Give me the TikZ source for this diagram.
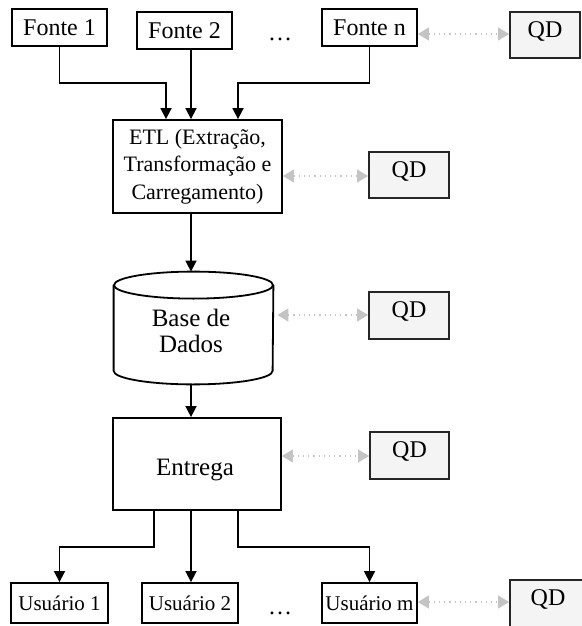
\documentclass[tikz,border=0pt]{standalone}
\usepackage{fontspec}
\setmainfont{Liberation Serif}
\usetikzlibrary{calc,arrows.meta}

\definecolor{qdfill}{HTML}{F4F4F4}
\definecolor{qdline}{HTML}{C4C4C4}

\tikzset{
  box/.style={draw=black, line width=0.9pt, fill=white, inner sep=0pt, align=center},
  qdbox/.style={draw=black!85, line width=0.9pt, fill=qdfill, inner sep=0pt},
  lbl/.style={font=\fontsize{12}{14}\selectfont},
  small/.style={font=\fontsize{10.5}{12}\selectfont},
  flow/.style={line width=0.8pt, -{Triangle[length=5.5pt,width=5.5pt]}},
  qdlink/.style={draw=qdline, line width=0.6pt, dotted,
    {Triangle[length=5.5pt,width=6.5pt]}-{Triangle[length=5.5pt,width=6.5pt]}},
  cyl/.style={draw=black, line width=0.9pt},
}

\begin{document}
\begin{tikzpicture}[x=0.5pt,y=-0.5pt]
\useasboundingbox (0,0) rectangle (582,626);

% routing helpers
\coordinate (spine) at (191,0);
\coordinate (topbus) at (0,83);
\coordinate (botbus) at (0,547);
\coordinate (a1) at (0,34);
\coordinate (a2) at (0,176);
\coordinate (a3) at (0,315);
\coordinate (a4) at (0,456);
\coordinate (a5) at (0,602);

% sources
\node[box,lbl,minimum width=47.5pt,minimum height=18.5pt] (f1) at (59.5,27.5) {Fonte 1};
\node[box,lbl,minimum width=47.5pt,minimum height=18.5pt] (f2) at (184.5,30.5) {Fonte 2};
\node[lbl,anchor=base] (d1) at (280,41) {\ldots};
\node[box,lbl,minimum width=47.5pt,minimum height=18.5pt] (fn) at (369.5,27.5) {Fonte n};

% ETL
\node[box,font=\fontsize{11}{13.75}\selectfont,minimum width=84.5pt,minimum height=46.5pt] (etl) at (197.5,166.5)
  {ETL (Extração,\\Transformação e\\Carregamento)};

% database cylinder
\node[inner sep=0pt,minimum width=79.5pt,minimum height=56pt] (dbshape) at (193.5,328) {};
\path (dbshape.north) ++(0,13.5) coordinate (ctop);
\path (dbshape.south) ++(0,-13.5) coordinate (cbot);
\fill[white] (ctop -| dbshape.west) rectangle (cbot -| dbshape.east);
\draw[cyl,fill=white] (ctop -| dbshape.west) -- (cbot -| dbshape.west)
  arc[start angle=180,end angle=360,x radius=39.75pt,y radius=6.75pt]
  -- (ctop -| dbshape.east);
\draw[cyl,fill=white] (ctop) ellipse[x radius=39.75pt,y radius=6.75pt];
\node[font=\fontsize{12.5}{13}\selectfont,align=center] (db) at (191,331) {Base de\\Dados};

% delivery
\node[box,minimum width=84pt,minimum height=46pt] (ent) at (197,464) {};
\node[font=\fontsize{12.5}{14}\selectfont] (entl) at (195,470) {Entrega};

% users
\node[box,small,minimum width=48.5pt,minimum height=20pt] (u1) at (59.5,603) {Usuário 1};
\node[box,small,minimum width=48pt,minimum height=20pt] (u2) at (190,603) {Usuário 2};
\node[lbl,anchor=base] (d2) at (280,614) {\ldots};
\node[box,small,minimum width=47.5pt,minimum height=20pt] (um) at (369.5,603) {Usuário m};

% data quality boxes
\node[qdbox,minimum width=35pt,minimum height=23pt] (qd1) at (545,35) {};
\node[qdbox,minimum width=40pt,minimum height=23pt] (qd2) at (409,175) {};
\node[qdbox,minimum width=40pt,minimum height=23.5pt] (qd3) at (409,315.5) {};
\node[qdbox,minimum width=39.5pt,minimum height=23.5pt] (qd4) at (409.5,455.5) {};
\node[qdbox,minimum width=38pt,minimum height=25pt] (qd5) at (548,605) {};
\foreach \q in {qd1,qd2,qd3,qd4,qd5}
  \node[lbl,anchor=base] (\q t) at ($(\q.north)+(0,26)$) {QD};

% flow connectors
\draw[flow] (f1.south) -- (f1.south |- topbus) -| ($(etl.north)+(-31.5,0)$);
\draw[flow] (f2.south -| spine) -- (etl.north -| spine);
\draw[flow] (fn.south) -- (fn.south |- topbus) -| ($(etl.north)+(40.5,0)$);
\draw[flow] (etl.south -| spine) -- (dbshape.north -| spine);
\draw[flow] (dbshape.south -| spine) -- (ent.north -| spine);
\coordinate (e1) at ($(ent.south)+(-43,0)$);
\coordinate (e3) at ($(ent.south)+(41,0)$);
\draw[flow] (e1) -- (e1 |- botbus) -| (u1.north);
\draw[flow] (ent.south -| spine) -- (u2.north -| spine);
\draw[flow] (e3) -- (e3 |- botbus) -| (um.north);

% quality links
\draw[qdlink] (fn.east |- a1) -- (qd1.west |- a1);
\draw[qdlink] (etl.east |- a2) -- (qd2.west |- a2);
\draw[qdlink] ($(dbshape.east |- a3)+(4,0)$) -- (qd3.west |- a3);
\draw[qdlink] (ent.east |- a4) -- (qd4.west |- a4);
\draw[qdlink] (um.east |- a5) -- (qd5.west |- a5);
\end{tikzpicture}
\end{document}
